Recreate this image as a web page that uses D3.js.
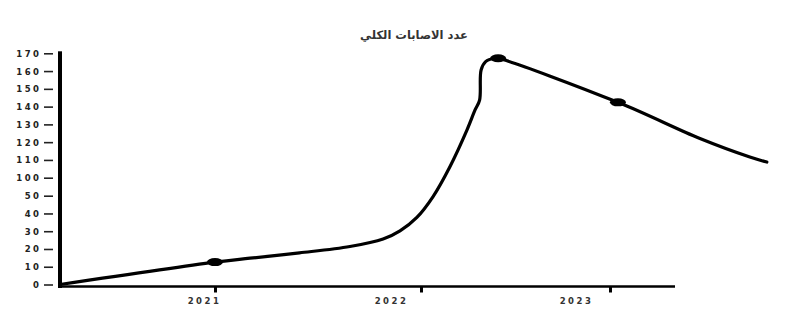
<!DOCTYPE html>
<html>
<head>
<meta charset="utf-8">
<script src="https://cdn.jsdelivr.net/npm/d3@7"></script>
<style>
  body { margin: 0; background: #fff; }
  svg { display: block; }
  .tick text { font-family: "DejaVu Sans", sans-serif; font-weight: bold; fill: #222; }
</style>
</head>
<body>
<svg></svg>
<script>
// data
var yTicks = [0, 10, 20, 30, 40, 50, 100, 110, 120, 130, 140, 150, 160, 170];
var xTicks = [2021, 2022, 2023];
var seriesYear  = [2020.25, 2021, 2021.17, 2021.41, 2021.655, 2021.816, 2021.898, 2021.98, 2022.063, 2022.153, 2022.243, 2022.286, 2022.31, 2022.318, 2022.342, 2022.39, 2022.408, 2023.042, 2023.476, 2023.74, 2023.83];
var seriesValue = [0, 12.6, 14.8, 17.8, 21.4, 25.6, 30.2, 37.8, 49.4, 106.2, 126.8, 138.1, 143.7, 160.6, 165.3, 167.2, 167.2, 142.4, 122.0, 111.6, 108.8];
var markerYear  = [2021, 2022.408, 2023.042];
var markerValue = [12.6, 167.2, 142.4];
var title = 'عدد الاصابات الكلي';

var canvasWidth = 802;
var canvasHeight = 323;

var svg = d3.select('svg')
  .attr('width', canvasWidth)
  .attr('height', canvasHeight);

// the axes of the original are not evenly spaced, so piecewise scales
var xScale = d3.scaleLinear()
  .domain([2020.25, 2021, 2022, 2023, 2023.344])
  .range([60, 215, 421, 610, 675]);
var yScale = d3.scaleLinear()
  .domain([0, 50, 100, 170])
  .range([284.5, 195.7, 177.7, 53.3]);

// title
svg.append('text')
  .attr('x', 414)
  .attr('y', 39)
  .attr('text-anchor', 'middle')
  .style('font-family', '"DejaVu Sans", sans-serif')
  .style('font-weight', 'bold')
  .style('font-size', '11.5px')
  .style('fill', '#333')
  .text(title);

// y axis
var yAxis = svg.append('g')
  .attr('transform', 'translate(60,0)')
  .call(d3.axisLeft(yScale).tickValues(yTicks).tickFormat(d3.format('d')));
yAxis.select('.domain').remove();
yAxis.selectAll('.tick line')
  .attr('x1', -7).attr('x2', -16)
  .attr('stroke', '#222').attr('stroke-width', 1.6);
yAxis.selectAll('.tick text')
  .attr('x', -18.5)
  .attr('dy', '0.35em')
  .style('font-size', '8.5px')
  .style('letter-spacing', '2.5px');
svg.append('line')
  .attr('x1', 60).attr('x2', 60)
  .attr('y1', yScale(170) - 2).attr('y2', yScale(0) + 3.5)
  .attr('stroke', '#000').attr('stroke-width', 4);

// x axis
var labelShift = [-11, -30, -34];
var xAxis = svg.append('g')
  .attr('transform', 'translate(0,' + (yScale(0) + 2) + ')')
  .call(d3.axisBottom(xScale).tickValues(xTicks).tickFormat(d3.format('d')));
xAxis.select('.domain').remove();
xAxis.selectAll('.tick line')
  .attr('y1', 0).attr('y2', 6)
  .attr('stroke', '#000').attr('stroke-width', 3);
xAxis.selectAll('.tick text')
  .attr('y', 11)
  .attr('dx', function(d, i) { return labelShift[i]; })
  .style('font-size', '8.5px')
  .style('letter-spacing', '2.5px')
  .style('fill', '#333');
svg.append('line')
  .attr('x1', 58).attr('x2', xScale(2023.344))
  .attr('y1', yScale(0) + 2).attr('y2', yScale(0) + 2)
  .attr('stroke', '#000').attr('stroke-width', 2.5);

// the curve
var points = seriesYear.map(function(d, i) { return [d, seriesValue[i]]; });
var line = d3.line()
  .x(function(d) { return xScale(d[0]); })
  .y(function(d) { return yScale(d[1]); })
  .curve(d3.curveCatmullRom.alpha(0.5));
svg.append('path')
  .datum(points)
  .attr('d', line)
  .attr('fill', 'none')
  .attr('stroke', '#000')
  .attr('stroke-width', 3.2)
  .attr('stroke-linecap', 'round');

// markers
svg.selectAll('.dot')
  .data(markerYear)
  .enter().append('ellipse')
  .attr('class', 'dot')
  .attr('cx', function(d) { return xScale(d); })
  .attr('cy', function(d, i) { return yScale(markerValue[i]); })
  .attr('rx', 8)
  .attr('ry', 4)
  .attr('fill', '#000');
</script>
</body>
</html>
